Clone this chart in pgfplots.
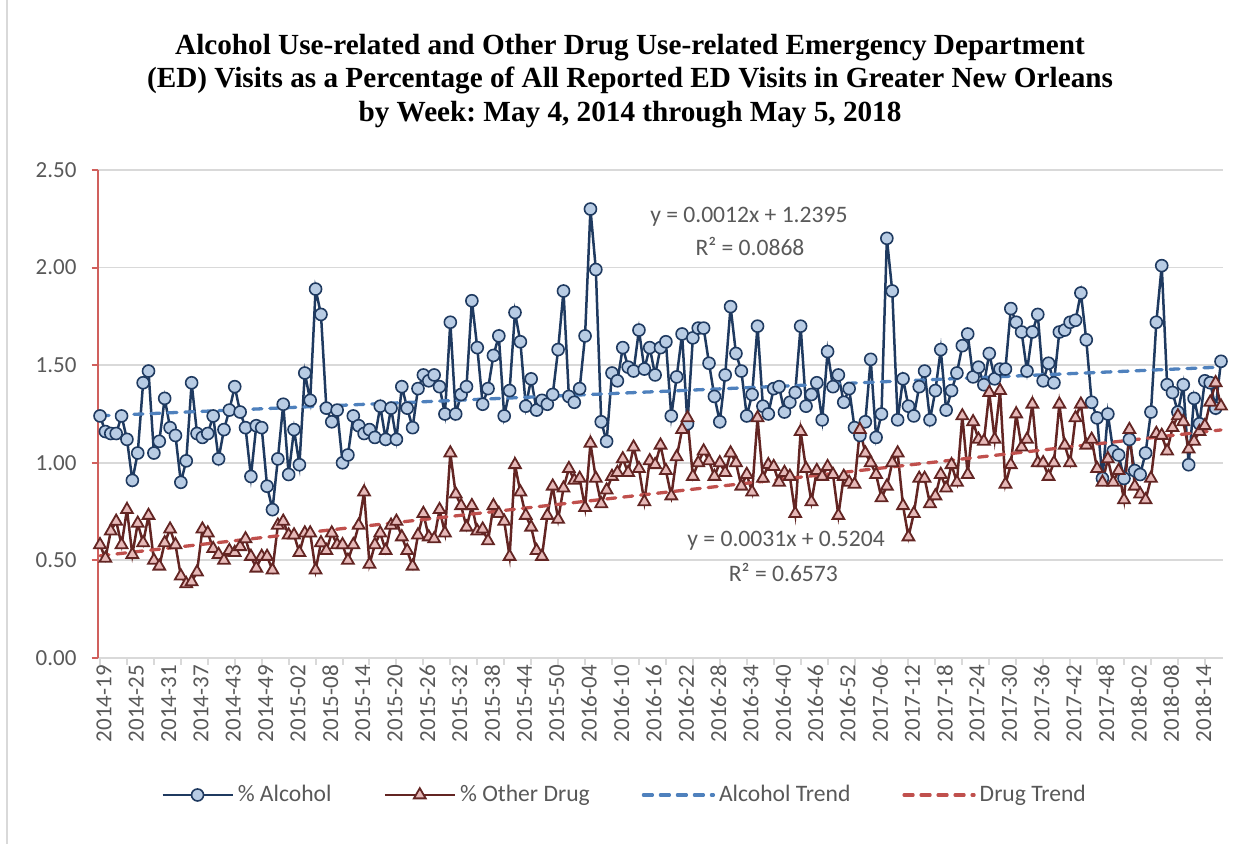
\documentclass[border=0pt]{standalone}
\usepackage{pgfplots}
\pgfplotsset{compat=1.18}
\usepackage{pgfplotstable}
\usepackage{fontspec}
\setmainfont{Liberation Serif}
\newfontfamily\carlito{Carlito}
\frenchspacing

\definecolor{alcline}{HTML}{1F3A60}
\definecolor{alcfill}{HTML}{B8CCE4}
\definecolor{drugline}{HTML}{632523}
\definecolor{drugfill}{HTML}{E6B9B8}
\definecolor{alctrend}{HTML}{4F81BD}
\definecolor{drugtrend}{HTML}{C0504D}
\definecolor{gridgray}{HTML}{D9D9D9}
\definecolor{txtgray}{HTML}{595959}
\definecolor{yaxisred}{HTML}{D0605D}

% week index (0 = 2014-19), % alcohol, % other drug
\pgfplotstableread{
i alc drug
0 1.24 0.58
1 1.16 0.51
2 1.15 0.65
3 1.15 0.70
4 1.24 0.58
5 1.12 0.76
6 0.91 0.53
7 1.05 0.69
8 1.41 0.59
9 1.47 0.73
10 1.05 0.50
11 1.11 0.47
12 1.33 0.59
13 1.18 0.66
14 1.14 0.58
15 0.90 0.42
16 1.01 0.38
17 1.41 0.39
18 1.15 0.44
19 1.13 0.66
20 1.15 0.64
21 1.24 0.56
22 1.02 0.53
23 1.17 0.50
24 1.27 0.55
25 1.39 0.54
26 1.26 0.57
27 1.18 0.61
28 0.93 0.52
29 1.19 0.46
30 1.18 0.52
31 0.88 0.52
32 0.76 0.45
33 1.02 0.68
34 1.30 0.70
35 0.94 0.63
36 1.17 0.63
37 0.99 0.54
38 1.46 0.64
39 1.32 0.64
40 1.89 0.45
41 1.76 0.59
42 1.28 0.55
43 1.21 0.64
44 1.27 0.58
45 1.00 0.58
46 1.04 0.50
47 1.24 0.58
48 1.19 0.68
49 1.15 0.85
50 1.17 0.48
51 1.13 0.58
52 1.29 0.64
53 1.12 0.55
54 1.28 0.68
55 1.12 0.70
56 1.39 0.62
57 1.28 0.55
58 1.18 0.47
59 1.38 0.63
60 1.45 0.74
61 1.42 0.62
62 1.45 0.61
63 1.39 0.76
64 1.25 0.64
65 1.72 1.05
66 1.25 0.84
67 1.35 0.78
68 1.39 0.67
69 1.83 0.78
70 1.59 0.65
71 1.30 0.66
72 1.38 0.60
73 1.55 0.78
74 1.65 0.74
75 1.24 0.70
76 1.37 0.52
77 1.77 0.99
78 1.62 0.85
79 1.29 0.73
80 1.43 0.67
81 1.27 0.55
82 1.32 0.52
83 1.30 0.73
84 1.35 0.88
85 1.58 0.71
86 1.88 0.87
87 1.34 0.97
88 1.31 0.91
89 1.38 0.92
90 1.65 0.77
91 2.30 1.10
92 1.99 0.92
93 1.21 0.79
94 1.11 0.86
95 1.46 0.93
96 1.42 0.95
97 1.59 1.02
98 1.49 0.95
99 1.47 1.08
100 1.68 0.97
101 1.48 0.80
102 1.59 1.01
103 1.45 0.99
104 1.59 1.09
105 1.62 0.96
106 1.24 0.83
107 1.44 1.03
108 1.66 1.17
109 1.20 1.23
110 1.64 0.93
111 1.69 1.00
112 1.69 1.06
113 1.51 1.01
114 1.34 0.93
115 1.21 1.00
116 1.45 0.95
117 1.80 1.05
118 1.56 1.00
119 1.47 0.88
120 1.24 0.94
121 1.35 0.85
122 1.70 1.23
123 1.29 0.92
124 1.25 0.99
125 1.38 0.98
126 1.39 0.90
127 1.26 0.95
128 1.31 0.93
129 1.36 0.74
130 1.70 1.16
131 1.29 0.97
132 1.35 0.80
133 1.41 0.96
134 1.22 0.93
135 1.57 0.98
136 1.39 0.94
137 1.45 0.73
138 1.31 0.93
139 1.38 0.90
140 1.18 0.89
141 1.14 1.17
142 1.21 1.05
143 1.53 1.00
144 1.13 0.94
145 1.25 0.82
146 2.15 0.88
147 1.88 1.00
148 1.22 1.05
149 1.43 0.78
150 1.29 0.62
151 1.24 0.74
152 1.39 0.92
153 1.47 0.92
154 1.22 0.79
155 1.37 0.83
156 1.58 0.94
157 1.27 0.87
158 1.37 0.99
159 1.46 0.90
160 1.60 1.24
161 1.66 0.94
162 1.44 1.21
163 1.49 1.12
164 1.40 1.11
165 1.56 1.36
166 1.43 1.12
167 1.48 1.37
168 1.48 0.89
169 1.79 0.99
170 1.72 1.25
171 1.67 1.08
172 1.47 1.12
173 1.67 1.30
174 1.76 1.00
175 1.42 1.00
176 1.51 0.93
177 1.41 1.00
178 1.67 1.30
179 1.68 1.09
180 1.72 1.00
181 1.73 1.23
182 1.87 1.30
183 1.63 1.09
184 1.31 1.12
185 1.23 0.97
186 0.92 0.90
187 1.25 1.02
188 1.06 0.90
189 1.04 0.96
190 0.92 0.81
191 1.12 1.17
192 0.96 0.88
193 0.94 0.84
194 1.05 0.81
195 1.26 0.92
196 1.72 1.15
197 2.01 1.14
198 1.40 1.06
199 1.36 1.18
200 1.26 1.24
201 1.40 1.21
202 0.99 1.07
203 1.33 1.11
204 1.20 1.16
205 1.42 1.19
206 1.41 1.31
207 1.28 1.41
208 1.52 1.29
}\edvisits

\begin{document}
\begin{tikzpicture}
\useasboundingbox (-49.25pt,-93pt) rectangle (577.25pt,329pt);
\draw[gridgray, line width=1pt] (-45.75pt,-93pt) -- (-45.75pt,329pt);
\begin{axis}[
  at={(0pt,0pt)}, anchor=south west,
  scale only axis, width=562.25pt, height=244pt,
  xmin=-0.28, xmax=208.37, ymin=0, ymax=2.5,
  clip=false,
  axis x line=bottom, axis y line=left,
  x axis line style={gridgray, line width=1pt, -},
  y axis line style={yaxisred, line width=1pt, -},
  tick align=outside,
  major tick length=3.5pt,
  xtick={0,5,...,205}, xticklabels={},
  xtick style={gridgray, line width=1pt},
  extra x ticks={0,6,...,204},
  extra x tick labels={2014-19,2014-25,2014-31,2014-37,2014-43,2014-49,2015-02,2015-08,2015-14,2015-20,2015-26,2015-32,2015-38,2015-44,2015-50,2016-04,2016-10,2016-16,2016-22,2016-28,2016-34,2016-40,2016-46,2016-52,2017-06,2017-12,2017-18,2017-24,2017-30,2017-36,2017-42,2017-48,2018-02,2018-08,2018-14},
  extra x tick style={major tick length=0pt},
  xticklabel style={rotate=90, anchor=east, font=\carlito\fontsize{11.5}{13}\selectfont, text=txtgray, yshift=-2pt},
  ytick={0,0.5,1,1.5,2,2.5},
  ytick style={yaxisred, line width=1pt},
  yticklabel style={font=\carlito\fontsize{11.5}{13}\selectfont, text=txtgray, xshift=-4pt},
  /pgf/number format/.cd, fixed, fixed zerofill, precision=2, assume math mode=true,
  /pgfplots/.cd,
  ymajorgrids=true,
  grid style={gridgray, line width=0.9pt},
  legend columns=4,
  legend image code/.code={\draw[mark repeat=2,mark phase=2,#1] plot coordinates {(0pt,0pt) (17.5pt,0pt) (35pt,0pt)};},
  legend style={draw=none, at={(0.4687,-0.2807)}, anchor=center,
    font=\carlito\fontsize{11.8}{14}\selectfont, text=txtgray,
    /tikz/every even column/.append style={column sep=24pt}},
]
\addplot[alcline, line width=1.25pt, mark=*, mark size=3pt,
  mark options={fill=alcfill, draw=alcline, line width=0.8pt}]
  table[x=i, y=alc]{\edvisits};
\addlegendentry{\% Alcohol}
\addplot[drugline, line width=1.25pt, mark=triangle*, mark size=3.4pt,
  mark options={fill=drugfill, draw=drugline, line width=0.9pt}]
  table[x=i, y=drug]{\edvisits};
\addlegendentry{\% Other Drug}
\addplot[alctrend, line width=1.65pt, dash pattern=on 4.5pt off 4pt, line cap=round]
  coordinates {(0,1.2407) (208,1.4903)};
\addlegendentry{Alcohol Trend}
\addplot[drugtrend, line width=1.65pt, dash pattern=on 4.5pt off 4pt, line cap=round]
  coordinates {(0,0.5235) (208,1.1683)};
\addlegendentry{Drug Trend}

\node[font=\carlito\fontsize{11.8}{14}\selectfont, text=txtgray] at (axis cs:120.4,2.26) {y = 0.0012x + 1.2395};
\node[font=\carlito\fontsize{11.8}{14}\selectfont, text=txtgray] at (axis cs:120.6,2.11) {R² = 0.0868};
\node[font=\carlito\fontsize{11.8}{14}\selectfont, text=txtgray] at (axis cs:127.3,0.60) {y = 0.0031x + 0.5204};
\node[font=\carlito\fontsize{11.8}{14}\selectfont, text=txtgray] at (axis cs:126.8,0.44) {R² = 0.6573};
\end{axis}
\node[font=\bfseries\fontsize{14.6}{16.8}\selectfont, align=center] at (265.75pt,288.5pt)
  {Alcohol Use-related and Other Drug Use-related Emergency Department\\
   (ED) Visits as a Percentage of All Reported ED Visits in Greater New Orleans\\
   by Week: May 4, 2014 through May 5, 2018};
\end{tikzpicture}
\end{document}
